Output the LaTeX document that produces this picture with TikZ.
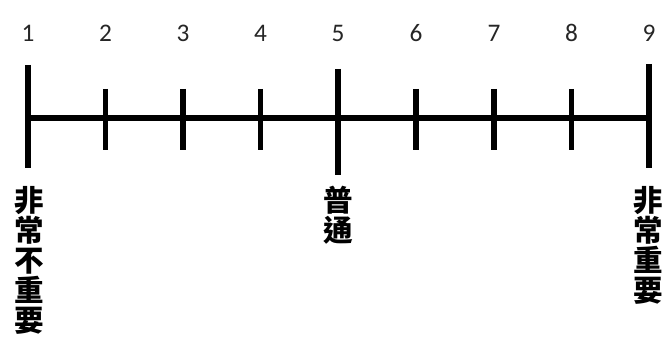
\documentclass[tikz,border=0pt]{standalone}
\usepackage{fontspec}
\setmainfont{Carlito}
\newfontfamily\cjk{Noto Sans CJK TC}
\newcommand{\verbalfont}{\cjk\bfseries\fontsize{21}{21.4}\selectfont\lineskiplimit=-5pt\relax}
\usetikzlibrary{positioning}

\begin{document}
\begin{tikzpicture}[
        x=0.025cm, y=-0.025cm,
        axis/.style   ={line width=3.6pt, draw=black},
        tick/.style   ={line width=3.6pt, draw=black},
        num/.style    ={font=\fontsize{18}{18}\selectfont, text=black!85, inner sep=0pt},
        verbal/.style ={font=\verbalfont, align=center, inner sep=0pt, anchor=north}
    ]
    \useasboundingbox (0,0) rectangle (665,341);

    % scale points 1..9 along the axis
    \foreach \i/\px in {1/28,2/105.6,3/183,4/260.5,5/338,6/416,7/494,8/571.5,9/649}{
        \coordinate (p\i) at (\px,118);
        \node[num] (n\i) at (\px,33) {\i};
    }

    \draw[axis] (p1) -- (p9);

    % short ticks for the intermediate points
    \foreach \i in {2,3,4,6,7,8}{
        \draw[tick] ([yshift=0.725cm]p\i) -- ([yshift=-0.8cm]p\i);
    }
    % long ticks at the anchors of the scale
    \draw[tick] ([yshift=1.325cm]p1) -- ([yshift=-1.25cm]p1);
    \draw[tick] ([yshift=1.225cm]p5) -- ([yshift=-1.425cm]p5);
    \draw[tick] ([yshift=1.35cm]p9) -- ([yshift=-1.25cm]p9);

    \node[verbal] (low)  at (29,186)  {非\\常\\不\\重\\要};
    \node[verbal] (mid)  at (338,186) {普\\通};
    \node[verbal] (high) at (648,186) {非\\常\\重\\要};
\end{tikzpicture}
\end{document}
